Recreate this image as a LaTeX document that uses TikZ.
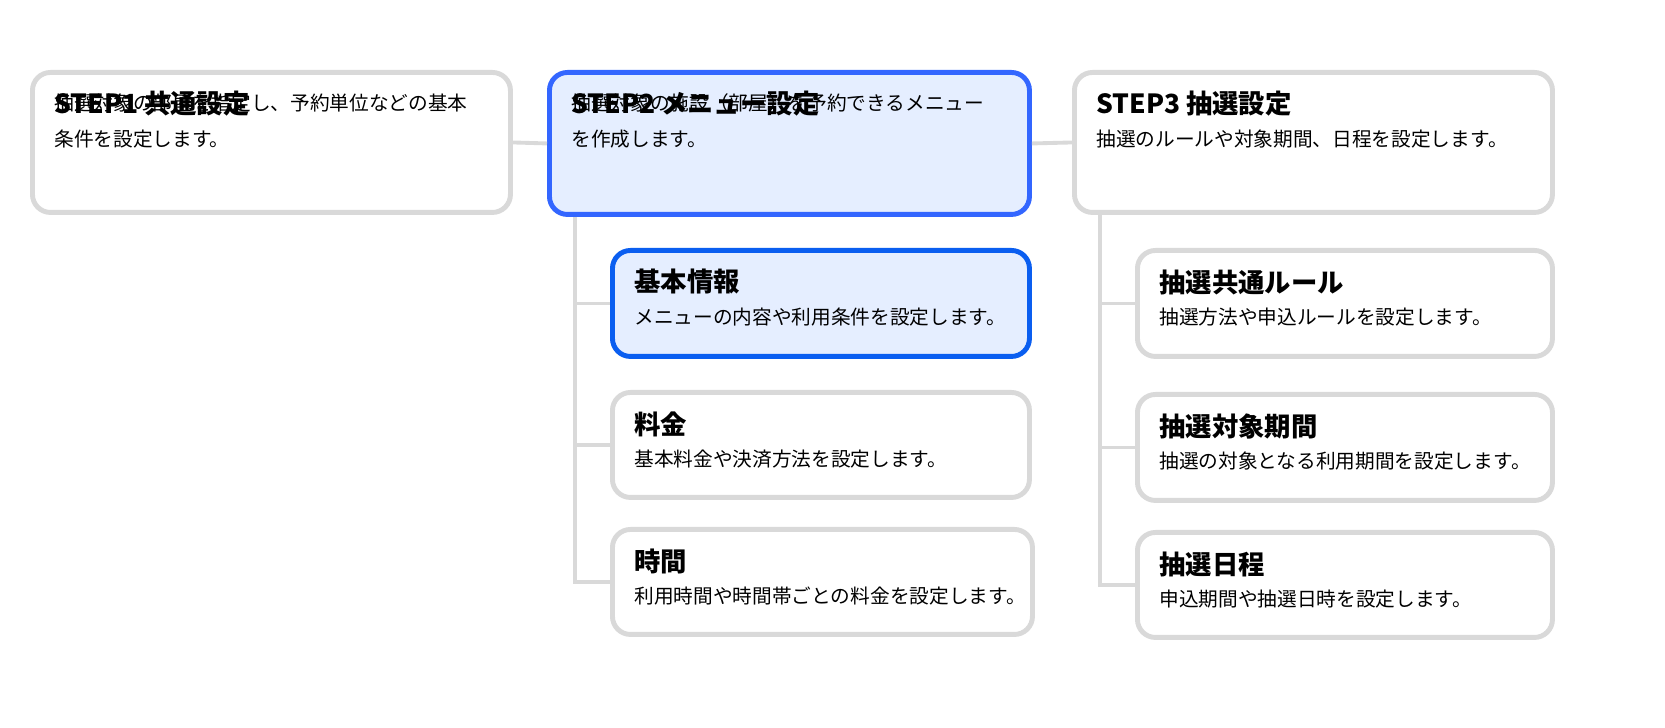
\documentclass[tikz,border=0pt]{standalone}
\usepackage{fontspec}
\setmainfont{Noto Sans CJK JP}
\usetikzlibrary{positioning}
\definecolor{boxgray}{HTML}{D9D9D9}
\definecolor{stepblue}{HTML}{3366FF}
\definecolor{subblue}{HTML}{0A5EF0}
\definecolor{paleblue}{HTML}{E5EEFF}
\tikzset{
  card/.style={rectangle, rounded corners=0.36cm, line width=2.8pt, draw=boxgray, fill=white, anchor=north west},
  hot/.style={card, draw=stepblue, fill=paleblue},
  title/.style={anchor=west, inner sep=0pt, font=\fontsize{15}{18}\selectfont\bfseries},
  desc/.style={anchor=base west, inner sep=0pt, align=left, font=\fontsize{11.2}{20.5}\selectfont},
  link/.style={line width=2.2pt, draw=boxgray}
}
\newcommand{\card}[8]{% name, style, x, y, w, h, title, desc
  \node (#1) [#2, minimum width=#5cm, minimum height=#6cm] at (#3,#4) {};
  \node (#1t) [title] at ([xshift=0.48cm, yshift=-0.68cm]#1.north west) {#7};
  \node (#1d) [desc] at ([xshift=0.48cm, yshift=-1.54cm]#1.north west) {#8};
}
\begin{document}
\begin{tikzpicture}
\useasboundingbox (0,0) rectangle (33.3,-14.56);

% step boxes
\card{stepone}{card}{0.6}{-1.4}{9.56}{2.8}{STEP1 共通設定}{抽選対象の部屋を指定し、予約単位などの基本\\条件を設定します。}
\card{steptwo}{hot}{10.94}{-1.4}{9.6}{2.84}{STEP2 メニュー設定}{抽選対象の施設（部屋）を予約できるメニュー\\を作成します。}
\card{stepthree}{card}{21.44}{-1.4}{9.56}{2.8}{STEP3 抽選設定}{抽選のルールや対象期間、日程を設定します。}

% menu items
\card{basic}{card, draw=subblue, fill=paleblue}{12.2}{-4.96}{8.34}{2.12}{基本情報}{メニューの内容や利用条件を設定します。}
\card{fee}{card}{12.2}{-7.8}{8.34}{2.1}{料金}{基本料金や決済方法を設定します。}
\card{hours}{card}{12.2}{-10.54}{8.4}{2.1}{時間}{利用時間や時間帯ごとの料金を設定します。}

% lottery items
\card{rule}{card}{22.7}{-4.96}{8.3}{2.12}{抽選共通ルール}{抽選方法や申込ルールを設定します。}
\card{period}{card}{22.7}{-7.84}{8.3}{2.12}{抽選対象期間}{抽選の対象となる利用期間を設定します。}
\card{sched}{card}{22.7}{-10.6}{8.3}{2.1}{抽選日程}{申込期間や抽選日時を設定します。}

\coordinate (midtrunk) at ([xshift=0.56cm]steptwo.south west);
\coordinate (righttrunk) at ([xshift=0.56cm]stepthree.south west);

\draw [link] (stepone.east) -- (steptwo.west);
\draw [link] (steptwo.east) -- (stepthree.west);
\draw [link] (midtrunk) |- (hours.west);
\draw [link] (midtrunk |- basic.west) -- (basic.west);
\draw [link] (midtrunk |- fee.west) -- (fee.west);
\draw [link] (righttrunk) |- (sched.west);
\draw [link] (righttrunk |- rule.west) -- (rule.west);
\draw [link] (righttrunk |- period.west) -- (period.west);

\end{tikzpicture}
\end{document}
